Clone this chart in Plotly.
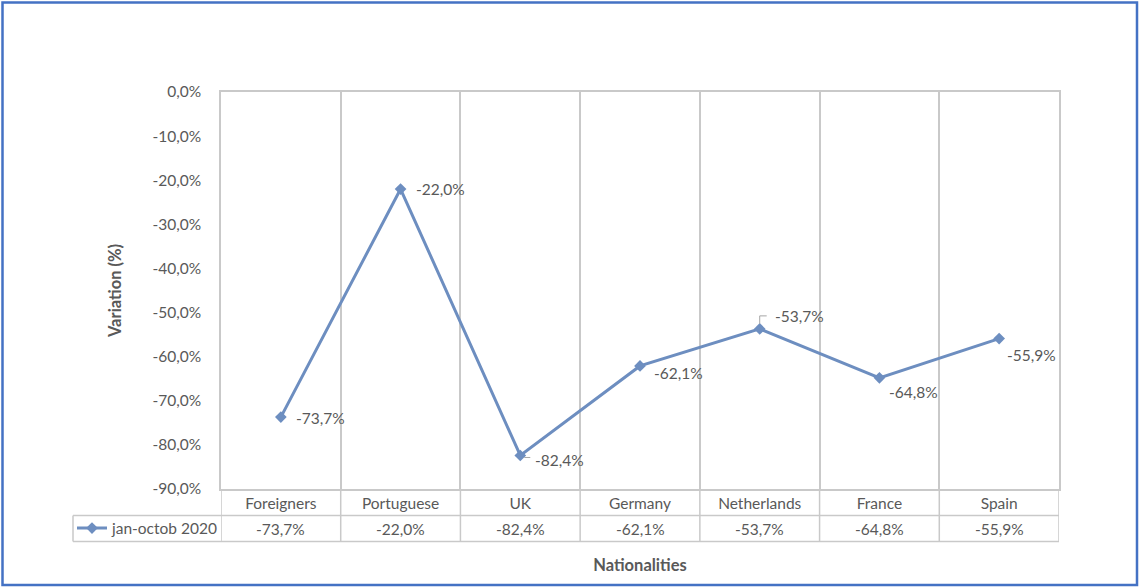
import plotly.graph_objects as go

# ---- data ---------------------------------------------------------------
nationalities = ["Foreigners", "Portuguese", "UK", "Germany",
                 "Netherlands", "France", "Spain"]
variation_2020 = [-73.7, -22.0, -82.4, -62.1, -53.7, -64.8, -55.9]
series_name = "jan-octob 2020"
y_ticks = [0, -10, -20, -30, -40, -50, -60, -70, -80, -90]

# ---- styling ------------------------------------------------------------
FONT = "Lato"
TEXT = "#595959"
GRID = "#C9C9C9"
LINE = "#6D8EC0"
FRAME = "#4472C4"
FS = 15.5

W, H = 1139, 587
L, R, T, B = 221, 80, 92, 98
PW, PH = W - L - R, H - T - B


def px_x(px):
    """pixel column -> paper x"""
    return (px - L) / PW


def px_y(py):
    """pixel row -> paper y"""
    return (H - B - py) / PH


def pct(v):
    return f"{v:.1f}%".replace(".", ",")


# offsets (pixels) of each point label from its marker
label_dx = [13, 13, 13, 12, 13, 8, 6]
label_dy = [-1, 0, -5, -7, 13, -14, -16]

fig = go.Figure()
fig.add_trace(go.Scatter(
    x=nationalities, y=variation_2020, name=series_name,
    mode="lines+markers",
    line=dict(color=LINE, width=3),
    marker=dict(symbol="diamond", size=9, color=LINE),
    showlegend=True,
))

annotations = []
for i, (c, v) in enumerate(zip(nationalities, variation_2020)):
    annotations.append(dict(
        x=c, y=v, xref="x", yref="y", text=pct(v), showarrow=False,
        xanchor="left", yanchor="middle",
        xshift=label_dx[i], yshift=label_dy[i],
        font=dict(family=FONT, size=FS, color=TEXT),
    ))
    # values row of the data table
    annotations.append(dict(
        x=c, y=px_y(528.5), xref="x", yref="paper", text=pct(v),
        showarrow=False, xanchor="center", yanchor="middle",
        font=dict(family=FONT, size=FS, color=TEXT),
    ))

shapes = []
# data table grid
for py in (515.5, 541.5):
    shapes.append(dict(type="line", xref="paper", yref="paper",
                       x0=px_x(73), x1=1, y0=px_y(py), y1=px_y(py),
                       line=dict(color=GRID, width=1.5)))
for k in range(len(nationalities) + 1):
    shapes.append(dict(type="line", xref="x", yref="paper",
                       x0=k - 0.5, x1=k - 0.5, y0=0, y1=px_y(541.5),
                       line=dict(color=GRID, width=1.5)))
shapes.append(dict(type="line", xref="paper", yref="paper",
                   x0=px_x(73), x1=px_x(73), y0=px_y(515.5), y1=px_y(541.5),
                   line=dict(color=GRID, width=1.5)))

# leader lines for the UK and Netherlands labels
leader = dict(color="#A6A6A6", width=1)
uk, nl = nationalities.index("UK"), nationalities.index("Netherlands")
shapes.append(dict(type="line", xref="x", yref="y", xsizemode="pixel",
                   ysizemode="pixel", xanchor=uk,
                   yanchor=variation_2020[uk],
                   x0=4, x1=10, y0=-2, y1=-2, line=leader))
shapes.append(dict(type="line", xref="x", yref="y", xsizemode="pixel",
                   ysizemode="pixel", xanchor=nl,
                   yanchor=variation_2020[nl],
                   x0=0, x1=0, y0=5, y1=13, line=leader))
shapes.append(dict(type="line", xref="x", yref="y", xsizemode="pixel",
                   ysizemode="pixel", xanchor=nl,
                   yanchor=variation_2020[nl],
                   x0=0, x1=7, y0=13, y1=13, line=leader))

# outer chart frame
shapes.append(dict(type="rect", xref="paper", yref="paper",
                   x0=px_x(2.5), x1=px_x(1137), y0=px_y(2.5), y1=px_y(585),
                   line=dict(color=FRAME, width=2.5), layer="above"))

fig.update_layout(
    width=W, height=H,
    margin=dict(l=L, r=R, t=T, b=B),
    paper_bgcolor="white", plot_bgcolor="white",
    font=dict(family=FONT, size=FS, color=TEXT),
    xaxis=dict(
        type="category", range=[-0.5, len(nationalities) - 0.5],
        tickson="boundaries", showgrid=True, gridcolor=GRID, gridwidth=1.5,
        showline=True, linecolor=GRID, linewidth=1.5, mirror=True,
        ticks="", ticklabelstandoff=0,
        tickfont=dict(family=FONT, size=FS, color=TEXT),
        title=dict(text="<b>Nationalities</b>", standoff=48,
                   font=dict(family=FONT, size=16.5, color=TEXT)),
        fixedrange=True, zeroline=False,
    ),
    yaxis=dict(
        range=[-90, 0], tickmode="array", tickvals=y_ticks,
        ticktext=[pct(v) for v in y_ticks],
        showgrid=False, zeroline=False,
        showline=True, linecolor=GRID, linewidth=1.5, mirror=True,
        ticks="", ticklabelstandoff=15,
        tickfont=dict(family=FONT, size=FS, color=TEXT),
        title=dict(text="<b>Variation (%)</b>", standoff=27,
                   font=dict(family=FONT, size=16.5, color=TEXT)),
        fixedrange=True,
    ),
    legend=dict(x=px_x(72), y=px_y(528.5), xanchor="left", yanchor="middle",
                bgcolor="rgba(0,0,0,0)", borderwidth=0,
                font=dict(family=FONT, size=FS, color=TEXT),
                itemwidth=30),
    annotations=annotations,
    shapes=shapes,
)

fig.write_html("out.html")
